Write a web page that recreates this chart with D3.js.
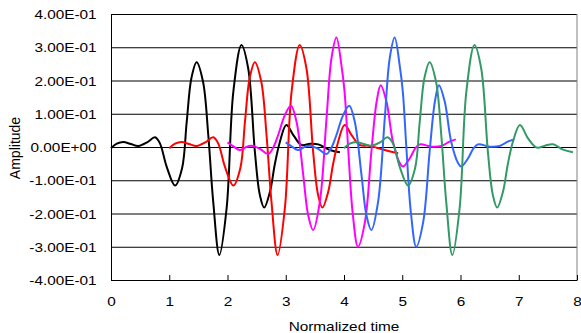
<!DOCTYPE html>
<html>
<head>
<meta charset="utf-8">
<script src="https://cdn.jsdelivr.net/npm/d3@7"></script>
<style>
  html, body { margin: 0; padding: 0; background: #fff; }
  svg { display: block; font-family: "Liberation Sans", Arial, sans-serif; }
</style>
</head>
<body>
<script>
// axis ticks
const xTicks = [0, 1, 2, 3, 4, 5, 6, 7, 8];
const yTicks = [-0.4, -0.3, -0.2, -0.1, 0, 0.1, 0.2, 0.3, 0.4];
const yTickLabels = ['-4.00E-01', '-3.00E-01', '-2.00E-01', '-1.00E-01', '0.00E+00',
                     '1.00E-01', '2.00E-01', '3.00E-01', '4.00E-01'];

// series: [normalized time, amplitude]
const seriesBlack = [
  [0.00,-0.004],[0.10,0.010],[0.21,0.015],[0.34,0.009],[0.47,0.003],[0.62,0.014],[0.755,0.029],
  [0.84,0.011],[0.955,-0.059],[1.10,-0.116],[1.22,-0.064],[1.30,0.076],[1.38,0.207],[1.47,0.255],
  [1.58,0.196],[1.67,0.036],[1.755,-0.165],[1.86,-0.325],[1.985,-0.184],[2.10,0.166],[2.24,0.307],
  [2.355,0.237],[2.47,-0.014],[2.555,-0.144],[2.63,-0.182],[2.73,-0.134],[2.81,-0.054],[2.90,0.016],
  [3.01,0.066],[3.13,0.036],[3.27,0.006],[3.42,0.010],[3.56,0.008],[3.76,-0.009],[3.93,-0.016]
];
const seriesRed = [
  [1.00,-0.004],[1.10,0.010],[1.21,0.015],[1.34,0.009],[1.47,0.003],[1.62,0.014],[1.755,0.029],
  [1.84,0.011],[1.955,-0.059],[2.10,-0.116],[2.22,-0.064],[2.30,0.076],[2.38,0.207],[2.47,0.255],
  [2.58,0.196],[2.67,0.036],[2.755,-0.165],[2.86,-0.325],[2.985,-0.184],[3.10,0.166],[3.24,0.307],
  [3.355,0.237],[3.47,-0.014],[3.555,-0.144],[3.63,-0.182],[3.73,-0.134],[3.81,-0.054],[3.90,0.016],
  [4.01,0.066],[4.13,0.036],[4.27,0.006],[4.42,0.004],[4.56,-0.002],[4.76,-0.012],[4.93,-0.019]
];
const seriesMagenta = [
  [2.00,0.014],[2.10,0.002],[2.21,-0.009],[2.31,-0.001],[2.41,0.004],[2.56,-0.006],[2.70,-0.021],
  [2.79,0.000],[2.87,0.036],[2.985,0.096],[3.09,0.124],[3.185,0.076],[3.30,-0.084],[3.385,-0.205],
  [3.47,-0.250],[3.585,-0.165],[3.70,0.086],[3.785,0.267],[3.87,0.329],[3.96,0.240],[4.01,0.166],
  [4.07,0.000],[4.15,-0.200],[4.24,-0.300],[4.36,-0.225],[4.47,-0.014],[4.56,0.136],[4.63,0.186],
  [4.73,0.136],[4.84,0.016],[4.96,-0.049],[5.01,-0.059],[5.13,-0.034],[5.22,-0.005],[5.30,0.008],
  [5.50,0.001],[5.67,0.003],[5.81,0.016],[5.92,0.023]
];
const seriesBlue = [
  [3.00,0.014],[3.10,0.002],[3.21,-0.009],[3.31,-0.001],[3.41,0.004],[3.56,-0.006],[3.70,-0.021],
  [3.79,0.000],[3.87,0.036],[3.985,0.096],[4.09,0.124],[4.185,0.076],[4.30,-0.084],[4.385,-0.205],
  [4.47,-0.250],[4.585,-0.165],[4.70,0.086],[4.785,0.267],[4.87,0.329],[4.96,0.240],[5.01,0.166],
  [5.07,0.000],[5.15,-0.200],[5.24,-0.300],[5.36,-0.225],[5.47,-0.014],[5.56,0.136],[5.63,0.186],
  [5.73,0.136],[5.84,0.016],[5.96,-0.049],[6.01,-0.059],[6.13,-0.034],[6.22,-0.005],[6.30,0.008],
  [6.50,0.001],[6.67,0.003],[6.81,0.016],[6.92,0.023]
];
const seriesGreen = [
  [4.00,-0.004],[4.10,0.010],[4.21,0.015],[4.34,0.009],[4.47,0.004],[4.62,0.014],[4.745,0.029],
  [4.84,0.011],[4.955,-0.059],[5.10,-0.116],[5.22,-0.064],[5.30,0.076],[5.38,0.207],[5.47,0.255],
  [5.58,0.196],[5.67,0.036],[5.755,-0.165],[5.86,-0.325],[5.985,-0.184],[6.10,0.166],[6.24,0.307],
  [6.355,0.237],[6.47,-0.014],[6.555,-0.144],[6.63,-0.182],[6.73,-0.134],[6.81,-0.054],[6.90,0.016],
  [7.02,0.066],[7.16,0.026],[7.31,-0.002],[7.45,0.004],[7.59,0.008],[7.76,-0.008],[7.93,-0.016]
];

const seriesList = [seriesBlack, seriesRed, seriesMagenta, seriesBlue, seriesGreen];
const seriesColors = ['#000000', '#ff0000', '#ff00ff', '#3366ff', '#339966'];

// Chart dimensions
const width = 581, height = 333,
      margin = {top: 14, right: 4, bottom: 53, left: 111};
const stretch = 1.18; // text in the picture is a bit wider than plain Arial

const x = d3.scaleLinear()
    .domain([0, 8])
    .range([margin.left, width - margin.right]);

const y = d3.scaleLinear()
    .domain([-0.4, 0.4])
    .range([height - margin.bottom, margin.top]);

const svg = d3.select('body').append('svg')
    .attr('width', width)
    .attr('height', height);

svg.append('rect')
   .attr('width', width)
   .attr('height', height)
   .attr('fill', '#fff');

// horizontal grid lines
svg.append('g')
   .attr('class', 'grid')
   .attr('transform', `translate(${margin.left},0)`)
   .call(d3.axisLeft(y)
           .tickValues(yTicks)
           .tickSize(-(width - margin.left - margin.right))
           .tickFormat(''))
   .call(g => g.select('.domain').remove())
   .call(g => g.selectAll('line').attr('stroke', '#000'));

// right border of the plot area
svg.append('line')
   .attr('x1', x(8)).attr('x2', x(8))
   .attr('y1', y(0.4)).attr('y2', y(-0.4))
   .attr('stroke', '#808080');

// the waves
const lineGen = d3.line()
    .curve(d3.curveCatmullRom.alpha(0.5))
    .x(d => x(d[0]))
    .y(d => y(d[1]));

seriesList.forEach((s, i) => {
  svg.append('path')
     .datum(s)
     .attr('fill', 'none')
     .attr('stroke', seriesColors[i])
     .attr('stroke-width', 2)
     .attr('stroke-linejoin', 'round')
     .attr('d', lineGen);
});

// X axis, ticks pointing into the plot
svg.append('g')
   .attr('class', 'x-axis')
   .attr('transform', `translate(0,${y(-0.4)})`)
   .call(d3.axisBottom(x)
           .tickValues(xTicks)
           .tickSizeInner(-5)
           .tickSizeOuter(0)
           .tickPadding(17)
           .tickFormat(d3.format('d')))
   .call(g => g.selectAll('path, line').attr('stroke', '#000'))
   .call(g => g.selectAll('text')
                .attr('fill', '#000')
                .attr('font-size', 13)
                .attr('font-family', '"Liberation Sans", Arial, sans-serif')
                .attr('transform', `scale(${stretch},1)`));

// Y axis
svg.append('g')
   .attr('class', 'y-axis')
   .attr('transform', `translate(${margin.left},0)`)
   .call(d3.axisLeft(y)
           .tickValues(yTicks)
           .tickSizeInner(0)
           .tickSizeOuter(0)
           .tickPadding(12.2)
           .tickFormat((d, i) => yTickLabels[i]))
   .call(g => g.selectAll('path, line').attr('stroke', '#000'))
   .call(g => g.selectAll('text')
                .attr('fill', '#000')
                .attr('dy', '0.36em')
                .attr('font-size', 13)
                .attr('font-family', '"Liberation Sans", Arial, sans-serif')
                .attr('transform', `scale(${stretch},1)`));

// axis titles
svg.append('text')
   .attr('transform', `translate(${(x(0) + x(8)) / 2},331) scale(${stretch},1)`)
   .attr('text-anchor', 'middle')
   .attr('font-size', 13)
   .text('Normalized time');

svg.append('text')
   .attr('transform', 'translate(20,148) rotate(-90)')
   .attr('text-anchor', 'middle')
   .attr('font-size', 14)
   .text('Amplitude');
</script>
</body>
</html>
